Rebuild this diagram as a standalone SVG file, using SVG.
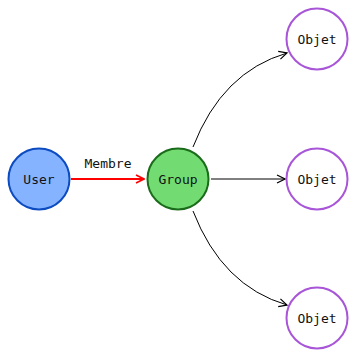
<svg xmlns="http://www.w3.org/2000/svg" width="350" height="350" viewBox="0 0 350 350">
<defs>
<marker id="ab" viewBox="0 0 10 10" refX="9" refY="5" markerWidth="10" markerHeight="10" markerUnits="userSpaceOnUse" orient="auto"><path d="M1,1 L9,5 L1,9" fill="none" stroke="#000" stroke-width="1.2"/></marker>
<marker id="ar" viewBox="0 0 10 10" refX="9" refY="5" markerWidth="10" markerHeight="10" markerUnits="userSpaceOnUse" orient="auto"><path d="M1,1 L9,5 L1,9" fill="none" stroke="#f00" stroke-width="1.6"/></marker>
<style>
text{font-family:"DejaVu Sans Mono","Liberation Mono",monospace;font-size:13px;text-anchor:middle;dominant-baseline:central;fill:#111}
.c{stroke:#000;stroke-width:1;fill:none;marker-end:url(#ab)}
.obj{fill:#fff;stroke:#a855d8;stroke-width:2}
</style>
</defs>
<g id="connectors">
<line x1="71" y1="179" x2="144" y2="179" stroke="#f00" stroke-width="2" marker-end="url(#ar)"/>
<text x="108" y="163">Membre</text>
<path class="c" d="M193,147 Q222,72 287,53"/>
<line class="c" x1="211" y1="179" x2="285" y2="179"/>
<path class="c" d="M193,211 Q222,286 287,305"/>
</g>
<g id="user"><circle cx="39" cy="179" r="30.5" fill="#85b3ff" stroke="#0c4bc0" stroke-width="2"/><text x="39" y="179">User</text></g>
<g id="group"><circle cx="178" cy="179" r="30.5" fill="#72dc72" stroke="#1a6b1a" stroke-width="2"/><text x="178" y="179">Group</text></g>
<g id="objet1"><circle class="obj" cx="317" cy="39" r="30.5"/><text x="317" y="39">Objet</text></g>
<g id="objet2"><circle class="obj" cx="317" cy="179" r="30.5"/><text x="317" y="179">Objet</text></g>
<g id="objet3"><circle class="obj" cx="317" cy="318" r="30.5"/><text x="317" y="318">Objet</text></g>
</svg>
